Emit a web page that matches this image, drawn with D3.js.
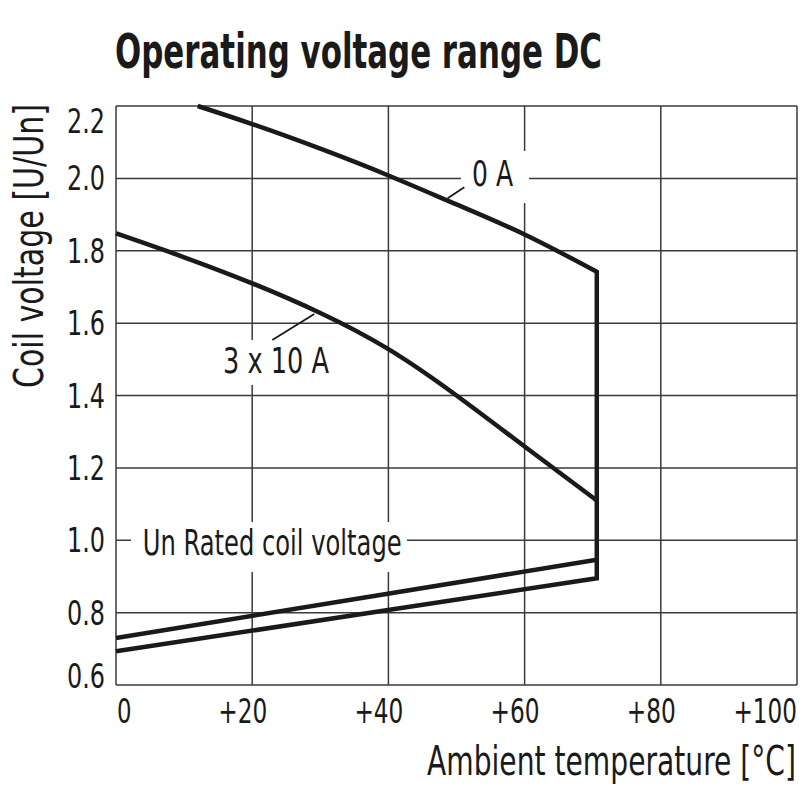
<!DOCTYPE html>
<html>
<head>
<meta charset="utf-8">
<script src="https://cdn.jsdelivr.net/npm/d3@7"></script>
<style>
  html, body { margin: 0; padding: 0; background: #fff; overflow: hidden; }
  text { font-family: "Liberation Sans Narrow", "DejaVu Sans Condensed", "Roboto", sans-serif; fill: #1a1a1a; }
</style>
</head>
<body>
<div id="chart"></div>
<script>
// ---- data ----
var tempTicks = [0, 20, 40, 60, 80, 100],
	tempLabels = ["0", "+20", "+40", "+60", "+80", "+100"],
	voltTicks = [0.6, 0.8, 1.0, 1.2, 1.4, 1.6, 1.8, 2.0, 2.2],
	voltLabels = ["0.6", "0.8", "1.0", "1.2", "1.4", "1.6", "1.8", "2.0", "2.2"];

// 0 A upper limit
var temp0A = [12, 20, 30, 40, 50, 60, 70.6],
	volt0A = [2.2, 2.15, 2.082, 2.008, 1.928, 1.845, 1.742];

// 3 x 10 A upper limit
var temp30A = [0, 10, 20, 30, 40, 50, 60, 70.6],
	volt30A = [1.848, 1.782, 1.71, 1.628, 1.528, 1.4, 1.259, 1.11];

// lower limits (pick-up voltage)
var tempLow = [0, 70.6],
	voltLowA = [0.73, 0.946],
	voltLowB = [0.693, 0.895];

var maxTemp = 70.6;

var W = 810, H = 810;

var svg = d3.select("#chart")
	.append("svg")
		.attr("width", W)
		.attr("height", H);

var x = d3.scaleLinear().domain([0, 100]).range([116, 797]),
	y = d3.scaleLinear().domain([0.6, 2.2]).range([685, 106]);

var INK = "#1a1a1a",
	GRID = "#3a3a3a";

// rough glyph widths of the condensed face in the reference (33px)
function tickWidth(s) {
	var w = 0;
	for (var i = 0; i < s.length; i++) {
		var c = s[i];
		w += c === "+" ? 20 : (c === "." ? 9 : 14.5);
	}
	return w;
}

// title
svg.append("text")
	.attr("x", 115)
	.attr("y", 68)
	.attr("font-size", 48)
	.attr("font-weight", "bold")
	.attr("textLength", 487)
	.attr("lengthAdjust", "spacingAndGlyphs")
	.text("Operating voltage range DC");

// grid
var grid = svg.append("g").attr("class", "grid");

grid.selectAll("line.v")
	.data(tempTicks)
	.enter()
	.append("line")
		.attr("class", "v")
		.attr("x1", function(d) { return x(d); })
		.attr("x2", function(d) { return x(d); })
		.attr("y1", y(0.6))
		.attr("y2", y(2.2))
		.attr("stroke", GRID)
		.attr("stroke-width", 1.5);

grid.selectAll("line.h")
	.data(voltTicks)
	.enter()
	.append("line")
		.attr("class", "h")
		.attr("x1", x(0))
		.attr("x2", x(100))
		.attr("y1", function(d) { return y(d); })
		.attr("y2", function(d) { return y(d); })
		.attr("stroke", GRID)
		.attr("stroke-width", 1.5);

// white knock-outs behind the labels
var knock = [
	{x0: 461, y0: 151, x1: 529, y1: 203},
	{x0: 218, y0: 340, x1: 336, y1: 385},
	{x0: 131, y0: 522, x1: 407, y1: 572}
];
svg.selectAll("rect.knock")
	.data(knock)
	.enter()
	.append("rect")
		.attr("class", "knock")
		.attr("x", function(d) { return d.x0; })
		.attr("y", function(d) { return d.y0; })
		.attr("width", function(d) { return d.x1 - d.x0; })
		.attr("height", function(d) { return d.y1 - d.y0; })
		.attr("fill", "#fff");

// tick labels
svg.selectAll("text.ytick")
	.data(voltTicks)
	.enter()
	.append("text")
		.attr("class", "ytick")
		.attr("x", 105)
		.attr("y", function(d, i) {
			var off = 12;
			if (i === voltTicks.length - 1) off += 15;
			if (i === 0) off -= 9;
			return y(d) + off;
		})
		.attr("text-anchor", "end")
		.attr("font-size", 33)
		.attr("textLength", function(d, i) { return tickWidth(voltLabels[i]); })
		.attr("lengthAdjust", "spacingAndGlyphs")
		.text(function(d, i) { return voltLabels[i]; });

svg.selectAll("text.xtick")
	.data(tempTicks)
	.enter()
	.append("text")
		.attr("class", "xtick")
		.attr("x", function(d, i) {
			if (i === 0) return x(d) + 1;
			if (i === tempTicks.length - 1) return x(d);
			return x(d) + 15;
		})
		.attr("y", 723)
		.attr("text-anchor", function(d, i) { return i === 0 ? "start" : "end"; })
		.attr("font-size", 33)
		.attr("textLength", function(d, i) { return tickWidth(tempLabels[i]); })
		.attr("lengthAdjust", "spacingAndGlyphs")
		.text(function(d, i) { return tempLabels[i]; });

// axis titles
svg.append("text")
	.attr("x", 796)
	.attr("y", 775)
	.attr("text-anchor", "end")
	.attr("font-size", 41)
	.attr("textLength", 369)
	.attr("lengthAdjust", "spacingAndGlyphs")
	.text("Ambient temperature [°C]");

svg.append("text")
	.attr("transform", "translate(43, 388) rotate(-90)")
	.attr("x", 0)
	.attr("y", 0)
	.attr("font-size", 41)
	.attr("textLength", 284)
	.attr("lengthAdjust", "spacingAndGlyphs")
	.text("Coil voltage [U/Un]");

// curves
function pts(ts, vs) {
	return ts.map(function(t, i) { return [t, vs[i]]; });
}

var smooth = d3.line()
	.x(function(d) { return x(d[0]); })
	.y(function(d) { return y(d[1]); })
	.curve(d3.curveNatural);

var straight = d3.line()
	.x(function(d) { return x(d[0]); })
	.y(function(d) { return y(d[1]); });

// outer boundary: 0 A curve, vertical at max temp, lower limit B back to 0
var lowB = pts(tempLow, voltLowB).reverse();
var outline = smooth(pts(temp0A, volt0A))
	+ "L" + x(maxTemp) + "," + y(voltLowB[voltLowB.length - 1])
	+ straight(lowB).replace("M", "L");

var curves = svg.append("g").attr("class", "curves")
	.attr("fill", "none")
	.attr("stroke", INK)
	.attr("stroke-width", 4.5)
	.attr("stroke-linejoin", "miter");

curves.append("path").attr("d", outline);
curves.append("path").attr("d", smooth(pts(temp30A, volt30A)));
curves.append("path").attr("d", straight(pts(tempLow, voltLowA)));

// labels with leader lines
var labels = [
	{text: "0 A", x: 472, y: 186, len: 41, lx1: 447.7, ly1: 198.3, lx2: 464.3, ly2: 187.3},
	{text: "3 x 10 A", x: 223, y: 373, len: 106, lx1: 272.3, ly1: 340, lx2: 314.3, ly2: 314},
	{text: "Un Rated coil voltage", x: 142.7, y: 555, len: 259}
];

var lab = svg.append("g").attr("class", "labels");

lab.selectAll("line")
	.data(labels.filter(function(d) { return d.lx1 !== undefined; }))
	.enter()
	.append("line")
		.attr("x1", function(d) { return d.lx1; })
		.attr("y1", function(d) { return d.ly1; })
		.attr("x2", function(d) { return d.lx2; })
		.attr("y2", function(d) { return d.ly2; })
		.attr("stroke", INK)
		.attr("stroke-width", 1.8);

lab.selectAll("text")
	.data(labels)
	.enter()
	.append("text")
		.attr("x", function(d) { return d.x; })
		.attr("y", function(d) { return d.y; })
		.attr("font-size", 35)
		.attr("textLength", function(d) { return d.len; })
		.attr("lengthAdjust", "spacingAndGlyphs")
		.text(function(d) { return d.text; });
</script>
</body>
</html>
